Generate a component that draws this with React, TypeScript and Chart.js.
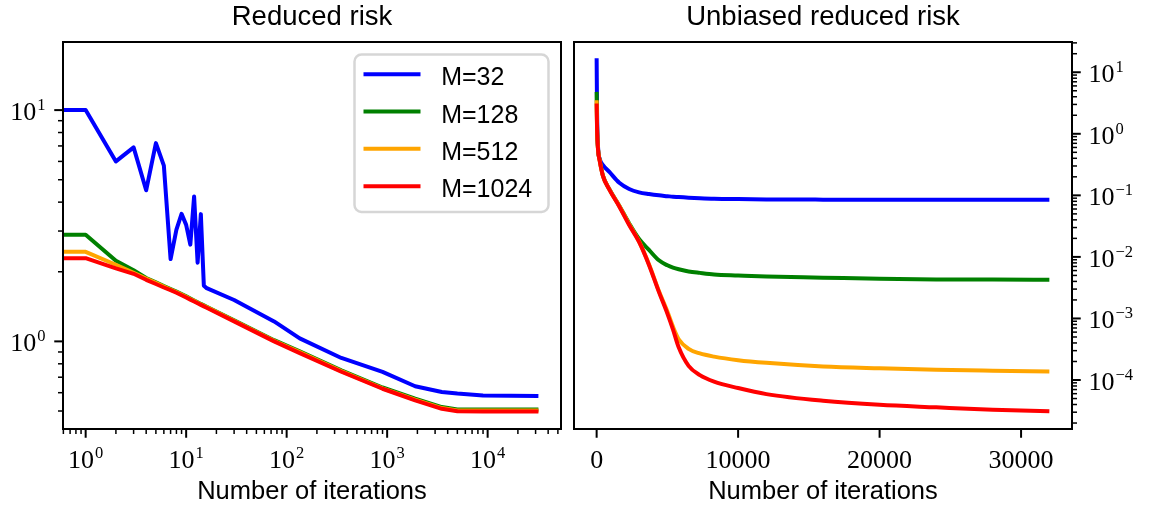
import React, { useEffect, useRef } from "react";
import { Chart, registerables } from "chart.js";

Chart.register(...registerables);

// ---------------- data ----------------
const SERIES_LABELS = ["M=32", "M=128", "M=512", "M=1024"];
const SERIES_COLORS = ["#0000ff", "#008000", "#ffa500", "#ff0000"];

// Left panel: reduced risk vs iterations (log-log)
const LEFT_ITERS = [0, 1, 2, 3, 4, 5, 6, 7, 8, 9, 10, 11, 12, 13, 14, 15, 16, 30, 75, 135, 350, 900, 1900, 3500, 5000, 9000, 32000];
const LEFT_M32 = [16.6, 10, 6.0, 6.9, 4.5, 7.2, 5.75, 2.27, 3.04, 3.56, 3.19, 2.62, 4.23, 2.19, 3.55, 1.74, 1.7, 1.51, 1.22, 1.03, 0.848, 0.738, 0.64, 0.604, 0.595, 0.584, 0.58];
const LEFT_M128 = [4.8, 2.89, 2.23, 2.03, 1.88, 1.8, 1.735, 1.685, 1.642, 1.602, 1.566, 1.532, 1.503, 1.477, 1.452, 1.432, 1.412, 1.235, 1.012, 0.905, 0.75, 0.632, 0.565, 0.52, 0.508, 0.507, 0.507];
const LEFT_M512 = [3.5, 2.44, 2.145, 1.98, 1.87, 1.79, 1.725, 1.675, 1.635, 1.595, 1.56, 1.525, 1.497, 1.47, 1.447, 1.426, 1.407, 1.228, 1.006, 0.898, 0.744, 0.627, 0.56, 0.515, 0.503, 0.502, 0.502];
const LEFT_M1024 = [3.1, 2.29, 2.07, 1.96, 1.846, 1.77, 1.71, 1.665, 1.623, 1.583, 1.548, 1.516, 1.488, 1.462, 1.438, 1.417, 1.398, 1.22, 1.0, 0.89, 0.739, 0.624, 0.556, 0.511, 0.499, 0.498, 0.498];

// Right panel: unbiased reduced risk vs iterations (linear x, log y)
const RIGHT_ITERS = [0, 30, 100, 220, 450, 900, 1600, 2300, 3000, 3700, 4400, 5000, 5400, 5800, 6500, 7300, 8300, 10000, 12000, 16000, 20000, 24000, 28000, 32000];
const RIGHT_M32 = [16.9, 2.2, 0.6, 0.39, 0.31, 0.24, 0.16, 0.127, 0.112, 0.105, 0.1, 0.097, 0.095, 0.094, 0.0918, 0.09, 0.0883, 0.087, 0.086, 0.0852, 0.0848, 0.0846, 0.0845, 0.0845];
const RIGHT_M128 = [4.8, 1.3, 0.56, 0.372, 0.207, 0.126, 0.068, 0.035, 0.0195, 0.013, 0.0088, 0.0073, 0.0067, 0.0063, 0.0058, 0.0055, 0.0052, 0.005, 0.0048, 0.0046, 0.0044, 0.0043, 0.00428, 0.00425];
const RIGHT_M512 = [3.5, 1.25, 0.555, 0.365, 0.206, 0.125, 0.067, 0.034, 0.0178, 0.0076, 0.0028, 0.0013, 0.00073, 0.00046, 0.00032, 0.00027, 0.00024, 0.00021, 0.00019, 0.000166, 0.000155, 0.000147, 0.000142, 0.000138];
const RIGHT_M1024 = [3.1, 1.2, 0.55, 0.36, 0.205, 0.124, 0.066, 0.033, 0.0175, 0.0074, 0.0027, 0.0012, 0.00066, 0.00034, 0.00017, 0.00012, 0.000094, 0.000074, 0.000059, 0.000046, 0.0000395, 0.000036, 0.000033, 0.000031];

// Tick labels
const LEFT_X_TICK_EXPONENTS = [0, 1, 2, 3, 4];
const LEFT_Y_TICK_EXPONENTS = [0, 1];
const RIGHT_X_TICKS = [0, 10000, 20000, 30000];
const RIGHT_Y_TICK_EXPONENTS = [-4, -3, -2, -1, 0, 1];

const TITLES = ["Reduced risk", "Unbiased reduced risk"];
const X_TITLE = "Number of iterations";

// ---------------- styling helpers ----------------
const SANS = '"Liberation Sans", Arial, sans-serif';
const SERIF = '"Liberation Serif", "Times New Roman", serif';
const MAIN_SIZE = 26;
const SUP_SIZE = 16.5;
const SUP_RAISE = 10;
const MAJOR_LEN = 8.75;
const MINOR_LEN = 5;
const LABEL_PAD = 8.75;
const LINE_W = 4;

// matplotlib clips non-positive values on a log axis to a tiny positive number
const LOG_CLIP = 1e-300;
const toLogX = (v: number) => (v > 0 ? v : LOG_CLIP);

type Label = { base: string; exp?: string };
type TickSpec = { value: number; label?: Label };
type AxisSpec = { id: string; side: "bottom" | "left" | "right"; major: TickSpec[]; minor: number[] };

const expText = (e: number) => (e < 0 ? "\u2212" + Math.abs(e) : String(e));

function logMinor(minExp: number, maxExp: number): number[] {
  const out: number[] = [];
  for (let e = minExp; e <= maxExp; e++) {
    for (let m = 2; m <= 9; m++) out.push(m * Math.pow(10, e));
  }
  return out;
}

function drawLabel(ctx: CanvasRenderingContext2D, lab: Label, x: number, baseline: number, align: "center" | "left" | "right") {
  ctx.font = `${MAIN_SIZE}px ${SERIF}`;
  const wb = ctx.measureText(lab.base).width;
  let we = 0;
  if (lab.exp) {
    ctx.font = `${SUP_SIZE}px ${SERIF}`;
    we = ctx.measureText(lab.exp).width + 1;
  }
  const total = wb + we;
  const left = align === "center" ? x - total / 2 : align === "right" ? x - total : x;
  ctx.textAlign = "left";
  ctx.textBaseline = "alphabetic";
  ctx.fillStyle = "#000";
  ctx.font = `${MAIN_SIZE}px ${SERIF}`;
  ctx.fillText(lab.base, left, baseline);
  if (lab.exp) {
    ctx.font = `${SUP_SIZE}px ${SERIF}`;
    ctx.fillText(lab.exp, left + wb + 1, baseline - SUP_RAISE);
  }
}

const mplAxesPlugin = {
  id: "mplAxes",
  afterDatasetsDraw(chart: any, _args: any, opts: any) {
    const { ctx, chartArea: a } = chart;
    ctx.save();
    ctx.strokeStyle = "#000";
    ctx.lineCap = "butt";
    const axes: AxisSpec[] = opts.axes || [];
    for (const ax of axes) {
      const scale = chart.scales[ax.id];
      const inRange = (v: number) => v >= Math.min(scale.min, scale.max) - 1e-12 && v <= Math.max(scale.min, scale.max) + 1e-12;
      const drawTick = (v: number, len: number, w: number) => {
        const p = scale.getPixelForValue(v);
        ctx.lineWidth = w;
        ctx.beginPath();
        if (ax.side === "bottom") {
          ctx.moveTo(p, a.bottom);
          ctx.lineTo(p, a.bottom + len);
        } else if (ax.side === "left") {
          ctx.moveTo(a.left, p);
          ctx.lineTo(a.left - len, p);
        } else {
          ctx.moveTo(a.right, p);
          ctx.lineTo(a.right + len, p);
        }
        ctx.stroke();
      };
      for (const v of ax.minor) if (inRange(v)) drawTick(v, MINOR_LEN, 1.5);
      for (const t of ax.major) {
        if (!inRange(t.value)) continue;
        drawTick(t.value, MAJOR_LEN, 2);
        if (!t.label) continue;
        const p = scale.getPixelForValue(t.value);
        if (ax.side === "bottom") {
          drawLabel(ctx, t.label, p, a.bottom + 38.5, "center");
        } else if (ax.side === "left") {
          drawLabel(ctx, t.label, a.left - MAJOR_LEN - LABEL_PAD, p + 10, "right");
        } else {
          drawLabel(ctx, t.label, a.right + MAJOR_LEN - 1 + LABEL_PAD, p + 10, "left");
        }
      }
    }
    // frame (spines)
    ctx.lineWidth = 2;
    ctx.strokeStyle = "#000";
    ctx.strokeRect(a.left, a.top, a.right - a.left, a.bottom - a.top);
    ctx.restore();
  },
};

const mplLegendPlugin = {
  id: "mplLegend",
  afterDraw(chart: any, _args: any, opts: any) {
    if (!opts || !opts.display) return;
    const { ctx, chartArea: a } = chart;
    const w = 194;
    const h = 157.5;
    const inset = 12.5;
    const x0 = a.right - inset - w;
    const y0 = a.top + inset;
    const r = 7;
    ctx.save();
    ctx.beginPath();
    ctx.moveTo(x0 + r, y0);
    ctx.arcTo(x0 + w, y0, x0 + w, y0 + h, r);
    ctx.arcTo(x0 + w, y0 + h, x0, y0 + h, r);
    ctx.arcTo(x0, y0 + h, x0, y0, r);
    ctx.arcTo(x0, y0, x0 + w, y0, r);
    ctx.closePath();
    ctx.fillStyle = "rgba(255,255,255,0.8)";
    ctx.fill();
    ctx.lineWidth = 2.5;
    ctx.strokeStyle = "rgba(204,204,204,0.8)";
    ctx.stroke();
    chart.data.datasets.forEach((ds: any, i: number) => {
      const cy = y0 + 19.7 + i * 37.33;
      ctx.beginPath();
      ctx.lineWidth = LINE_W;
      ctx.lineCap = "butt";
      ctx.strokeStyle = ds.borderColor;
      ctx.moveTo(x0 + 9, cy);
      ctx.lineTo(x0 + 66, cy);
      ctx.stroke();
      ctx.fillStyle = "#000";
      ctx.font = `25px ${SANS}`;
      ctx.textAlign = "left";
      ctx.textBaseline = "alphabetic";
      ctx.fillText(ds.label, x0 + 86.7, cy + 11);
    });
    ctx.restore();
  },
};

function makeDatasets(xs: number[], series: number[][], mapX: (v: number) => number, smooth: boolean) {
  return series.map((ys, i) => ({
    label: SERIES_LABELS[i],
    data: xs.map((x, k) => ({ x: mapX(x), y: ys[k] })),
    borderColor: SERIES_COLORS[i],
    backgroundColor: SERIES_COLORS[i],
    borderWidth: LINE_W,
    pointRadius: 0,
    pointHoverRadius: 0,
    borderJoinStyle: "round",
    borderCapStyle: "butt",
    tension: 0,
    cubicInterpolationMode: smooth ? "monotone" : "default",
    order: series.length - i,
    fill: false,
  }));
}

function titleOpts(text: string) {
  return {
    display: true,
    text,
    fullSize: false,
    color: "#000",
    font: { family: SANS, size: 27.5, weight: "normal", lineHeight: 1.2 },
    padding: { top: 1, bottom: 8 },
  };
}

const xTitle = {
  display: true,
  text: X_TITLE,
  color: "#000",
  font: { family: SANS, size: 25.5, weight: "normal", lineHeight: 1.2 },
  padding: { top: 0, bottom: 2.5 },
};

const hidden = {
  ticks: { display: false },
  grid: { display: false },
  border: { display: false },
};

function leftConfig(): any {
  return {
    type: "line",
    data: {
      datasets: makeDatasets(LEFT_ITERS, [LEFT_M32, LEFT_M128, LEFT_M512, LEFT_M1024], toLogX, false),
    },
    options: {
      animation: false,
      responsive: false,
      events: [],
      layout: { padding: { left: 0, right: 7, top: 0, bottom: 0 } },
      scales: {
        x: {
          type: "logarithmic",
          position: "bottom",
          min: 0.595,
          max: 53700,
          ...hidden,
          title: xTitle,
          afterFit: (s: any) => {
            s.height = 81;
          },
        },
        y: {
          type: "logarithmic",
          position: "left",
          min: 0.418,
          max: 19.7,
          ...hidden,
          afterFit: (s: any) => {
            s.width = 63;
          },
        },
      },
      plugins: {
        legend: { display: false },
        tooltip: { enabled: false },
        title: titleOpts(TITLES[0]),
        mplLegend: { display: true },
        mplAxes: {
          axes: [
            {
              id: "x",
              side: "bottom",
              major: LEFT_X_TICK_EXPONENTS.map((e) => ({ value: Math.pow(10, e), label: { base: "10", exp: expText(e) } })),
              minor: logMinor(-1, 4),
            },
            {
              id: "y",
              side: "left",
              major: LEFT_Y_TICK_EXPONENTS.map((e) => ({ value: Math.pow(10, e), label: { base: "10", exp: expText(e) } })),
              minor: logMinor(-1, 1),
            },
          ],
        },
      },
    },
    plugins: [mplAxesPlugin, mplLegendPlugin],
  };
}

function rightConfig(): any {
  return {
    type: "line",
    data: {
      datasets: makeDatasets(RIGHT_ITERS, [RIGHT_M32, RIGHT_M128, RIGHT_M512, RIGHT_M1024], (v) => v, true),
    },
    options: {
      animation: false,
      responsive: false,
      events: [],
      layout: { padding: { left: 6, right: 0, top: 0, bottom: 0 } },
      scales: {
        x: {
          type: "linear",
          position: "bottom",
          min: -1600,
          max: 33600,
          ...hidden,
          title: xTitle,
          afterFit: (s: any) => {
            s.height = 81;
          },
        },
        y: {
          type: "logarithmic",
          position: "right",
          min: 1.6e-5,
          max: 31,
          ...hidden,
          afterFit: (s: any) => {
            s.width = 79;
          },
        },
      },
      plugins: {
        legend: { display: false },
        tooltip: { enabled: false },
        title: titleOpts(TITLES[1]),
        mplAxes: {
          axes: [
            {
              id: "x",
              side: "bottom",
              major: RIGHT_X_TICKS.map((v) => ({ value: v, label: { base: String(v) } })),
              minor: [],
            },
            {
              id: "y",
              side: "right",
              major: RIGHT_Y_TICK_EXPONENTS.map((e) => ({ value: Math.pow(10, e), label: { base: "10", exp: expText(e) } })),
              minor: logMinor(-5, 1),
            },
          ],
        },
      },
    },
    plugins: [mplAxesPlugin],
  };
}

function Panel({ config, left, width }: { config: () => any; left: number; width: number }) {
  const ref = useRef<HTMLCanvasElement | null>(null);
  useEffect(() => {
    if (!ref.current) return;
    const chart = new Chart(ref.current, config());
    return () => chart.destroy();
  }, [config]);
  return (
    <canvas
      ref={ref}
      width={width}
      height={510}
      style={{ position: "absolute", left, top: 0, width, height: 510, display: "block" }}
    />
  );
}

export default function App() {
  return (
    <div style={{ position: "fixed", left: 0, top: 0, width: 1151, height: 510, background: "#fff", overflow: "hidden" }}>
      <Panel config={leftConfig} left={0} width={568} />
      <Panel config={rightConfig} left={568} width={583} />
    </div>
  );
}
